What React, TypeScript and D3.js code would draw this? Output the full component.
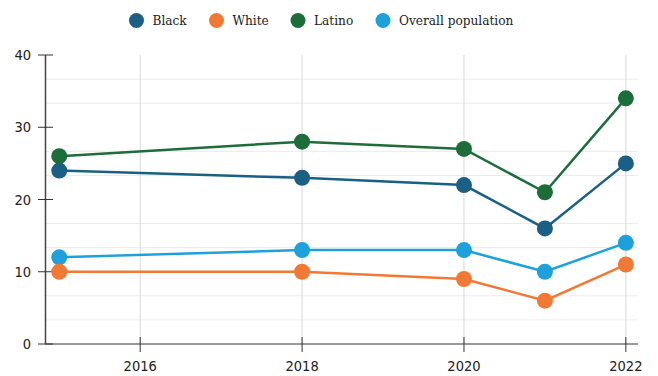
import React from "react";
import * as d3 from "d3";

const years = [2015, 2018, 2020, 2021, 2022];
const black = [24, 23, 22, 16, 25];
const white = [10, 10, 9, 6, 11];
const latino = [26, 28, 27, 21, 34];
const overall = [12, 13, 13, 10, 14];
const seriesNames = ["Black", "White", "Latino", "Overall population"];
const seriesColors = ["#1b5f84", "#f07a35", "#1c6d3a", "#1ea1db"];
const xTicks = [2016, 2018, 2020, 2022];
const yTicks = [0, 10, 20, 30, 40];

export default function App() {
  const W = 658, H = 376;
  const x = d3.scaleLinear().domain([2014.83, 2022.15]).range([45.5, 638]);
  const y = d3.scaleLinear().domain([0, 40]).range([344, 55]);
  const data = [black, white, latino, overall];
  const line = d3.line<number>().x((_, i) => x(years[i])).y((d) => y(d));
  const minor = d3.range(0, 40, 10 / 3).filter((_, i) => i % 3 !== 0);
  const legendX = [136.5, 216.5, 298, 383];
  const order = [3, 1, 0, 2];
  const tickFont = { fontFamily: "'DejaVu Sans', sans-serif", fontStretch: "condensed" } as React.CSSProperties;
  return (
    <svg width={W} height={H} style={{ position: "absolute", left: 0, top: 0 }}>
      <rect width={W} height={H} fill="#fff" />
      {minor.map((v, i) => (
        <line key={"h" + i} x1={45} x2={638} y1={y(v)} y2={y(v)} stroke="#ebebeb" strokeWidth={1} />
      ))}
      {xTicks.map((t) => (
        <line key={"v" + t} x1={x(t)} x2={x(t)} y1={55} y2={344} stroke="#d9d9d9" strokeWidth={1} />
      ))}
      <line x1={45.5} x2={45.5} y1={55} y2={344} stroke="#444" strokeWidth={1.5} />
      <line x1={45} x2={638} y1={344} y2={344} stroke="#333" strokeWidth={1} />
      {yTicks.map((t) => (
        <g key={"yt" + t}>
          <line x1={38} x2={53} y1={y(t)} y2={y(t)} stroke="#333" />
          <text x={31} y={y(t)} dy="0.36em" textAnchor="end" fontSize={14.5} fill="#222" style={tickFont}>{t}</text>
        </g>
      ))}
      {xTicks.map((t) => (
        <g key={"xt" + t}>
          <line x1={x(t)} x2={x(t)} y1={337} y2={352} stroke="#333" />
          <text x={x(t)} y={371} textAnchor="middle" fontSize={14.5} fill="#222" style={tickFont}>{t}</text>
        </g>
      ))}
      {order.map((si) => (
        <g key={"s" + si}>
          <path d={line(data[si]) || ""} fill="none" stroke={seriesColors[si]} strokeWidth={2.5} />
          {data[si].map((v, i) => (
            <circle key={i} cx={x(years[i])} cy={y(v)} r={8} fill={seriesColors[si]} />
          ))}
        </g>
      ))}
      {seriesNames.map((n, i) => (
        <g key={"l" + i}>
          <circle cx={legendX[i]} cy={20.5} r={7.5} fill={seriesColors[i]} />
          <text x={legendX[i] + 16} y={20.5} dy="0.35em" fontFamily="'DejaVu Serif', serif" fontSize={13.5} fill="#222" style={{ fontStretch: "condensed" }}>{n}</text>
        </g>
      ))}
    </svg>
  );
}
